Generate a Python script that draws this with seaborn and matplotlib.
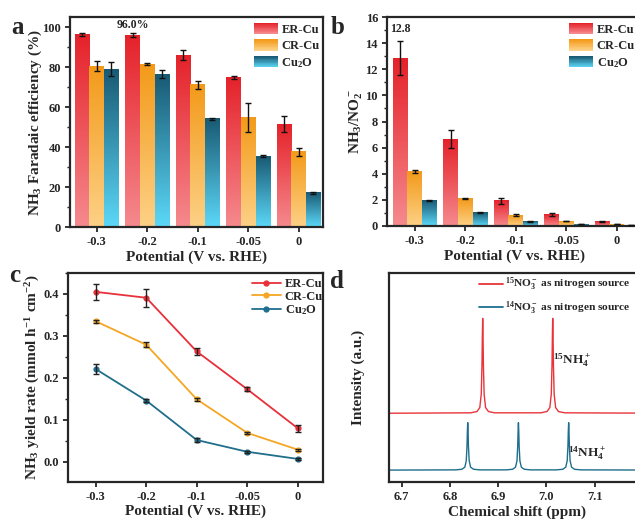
import numpy as np
import pandas as pd
import matplotlib
matplotlib.use("Agg")
import matplotlib.pyplot as plt
from matplotlib.colors import LinearSegmentedColormap
from matplotlib.legend_handler import HandlerBase
from matplotlib.patches import Rectangle
from matplotlib.lines import Line2D
from matplotlib.ticker import AutoMinorLocator, MultipleLocator, FormatStrFormatter
import seaborn as sns


potentials = ["-0.3", "-0.2", "-0.1", "-0.05", "0"]
samples = ["ER-Cu", "CR-Cu", "Cu$_2$O"]

# panel a: NH3 Faradaic efficiency (%)
fe_er = [96.2, 96.0, 86.0, 74.8, 51.5]
fe_er_err = [0.6, 0.9, 2.4, 0.8, 3.8]
fe_cr = [80.3, 81.5, 71.2, 54.8, 37.6]
fe_cr_err = [2.5, 0.5, 2.0, 7.2, 1.9]
fe_cu2o = [79.0, 76.3, 54.2, 35.5, 17.2]
fe_cu2o_err = [3.5, 2.0, 0.5, 0.3, 0.5]

# panel b: NH3/NO2- ratio
ratio_er = [12.85, 6.65, 1.92, 0.88, 0.34]
ratio_er_err = [1.32, 0.7, 0.2, 0.08, 0.03]
ratio_cr = [4.2, 2.07, 0.84, 0.38, 0.14]
ratio_cr_err = [0.12, 0.04, 0.05, 0.03, 0.02]
ratio_cu2o = [1.96, 1.03, 0.35, 0.14, 0.06]
ratio_cu2o_err = [0.06, 0.04, 0.03, 0.02, 0.01]

# panel c: NH3 yield rate (mmol h-1 cm-2)
yield_er = [0.405, 0.391, 0.263, 0.173, 0.080]
yield_er_err = [0.019, 0.022, 0.008, 0.005, 0.008]
yield_cr = [0.335, 0.279, 0.149, 0.069, 0.029]
yield_cr_err = [0.004, 0.006, 0.003, 0.003, 0.002]
yield_cu2o = [0.221, 0.146, 0.052, 0.024, 0.007]
yield_cu2o_err = [0.012, 0.003, 0.004, 0.003, 0.002]

# panel d: 1H NMR traces
shift_15n = [6.67, 6.843, 6.856, 6.862, 6.865, 6.8665, 6.8673, 6.868, 6.8687, 6.8695, 6.871, 6.874, 6.880, 6.893,
             6.988, 7.001, 7.007, 7.010, 7.0115, 7.0123, 7.013, 7.0137, 7.0145, 7.016, 7.019, 7.025, 7.038, 7.26]
int_15n = [0.329, 0.331, 0.337, 0.356, 0.420, 0.556, 0.701, 0.783, 0.701, 0.556, 0.420, 0.356, 0.337, 0.331,
           0.331, 0.337, 0.356, 0.420, 0.556, 0.701, 0.783, 0.701, 0.556, 0.420, 0.356, 0.337, 0.331, 0.329]
shift_14n = [6.67, 6.812, 6.825, 6.831, 6.834, 6.8355, 6.8363, 6.837, 6.8377, 6.8385, 6.840, 6.843, 6.849, 6.862,
             6.917, 6.930, 6.936, 6.939, 6.9405, 6.9413, 6.942, 6.9427, 6.9435, 6.945, 6.948, 6.954, 6.967,
             7.021, 7.034, 7.040, 7.043, 7.0445, 7.0453, 7.046, 7.0467, 7.0475, 7.049, 7.052, 7.058, 7.071, 7.26]
int_14n = [0.057, 0.058, 0.061, 0.071, 0.102, 0.171, 0.243, 0.284, 0.243, 0.171, 0.102, 0.071, 0.061, 0.058,
           0.058, 0.061, 0.071, 0.102, 0.171, 0.243, 0.284, 0.243, 0.171, 0.102, 0.071, 0.061, 0.058,
           0.058, 0.061, 0.071, 0.102, 0.171, 0.243, 0.284, 0.243, 0.171, 0.102, 0.071, 0.061, 0.058, 0.057]

# bar gradients: (bottom, top)
grad_colors = {"ER-Cu": ("#f58a8e", "#e5222a"),
               "CR-Cu": ("#fdd186", "#f39a1a"),
               "Cu$_2$O": ("#5cd8f8", "#195a74")}
line_colors = {"ER-Cu": "#e8303a", "CR-Cu": "#f5a623", "Cu$_2$O": "#1f6e8c"}

sns.set_style("ticks")
plt.rcParams["font.family"] = ["Liberation Serif", "DejaVu Serif"]
plt.rcParams["font.weight"] = "bold"
plt.rcParams["axes.labelweight"] = "bold"
plt.rcParams["mathtext.fontset"] = "custom"
plt.rcParams["mathtext.rm"] = "Liberation Serif:bold"
plt.rcParams["mathtext.it"] = "Liberation Serif:italic:bold"
plt.rcParams["mathtext.bf"] = "Liberation Serif:bold"
plt.rcParams["mathtext.default"] = "rm"

TICK_FS = 9
LABEL_FS = 11
LEG_FS = 9


class GradientHandler(HandlerBase):
    def __init__(self, cmap):
        super().__init__()
        self.cmap = cmap

    def create_artists(self, legend, orig_handle, xdescent, ydescent, width, height, fontsize, trans):
        strips = []
        n = 14
        for k in range(n):
            strips.append(Rectangle((-xdescent, -ydescent + height * k / n), width, height / n * 1.05,
                                    facecolor=self.cmap(k / (n - 1)), edgecolor="none", transform=trans))
        return strips


def style_axes(ax):
    for sp in ax.spines.values():
        sp.set_linewidth(1.6)
        sp.set_visible(True)
    ax.tick_params(which="major", direction="out", length=3.5, width=1.3, labelsize=TICK_FS, pad=3)
    ax.tick_params(which="minor", direction="out", length=2, width=1.0)
    for lab in ax.get_xticklabels() + ax.get_yticklabels():
        lab.set_fontweight("bold")


def gradient_barplot(ax, values, errors, ylim):
    df = pd.DataFrame({"potential": np.tile(potentials, 3),
                       "sample": np.repeat(samples, 5),
                       "value": np.concatenate(values)})
    sns.barplot(data=df, x="potential", y="value", hue="sample", order=potentials, hue_order=samples,
                errorbar=None, width=0.87, ax=ax, legend=False, palette=[grad_colors[s][1] for s in samples])
    for j, (cont, s) in enumerate(zip(ax.containers, samples)):
        cmap = LinearSegmentedColormap.from_list(s, grad_colors[s])
        for bar, err in zip(cont, errors[j]):
            x0, w, h = bar.get_x(), bar.get_width(), bar.get_height()
            ax.imshow(np.linspace(0, 1, 128).reshape(-1, 1), origin="lower", cmap=cmap, aspect="auto",
                      extent=[x0, x0 + w, 0, h], zorder=2)
            bar.set_visible(False)
            ax.errorbar(x0 + w / 2, h, yerr=err, fmt="none", ecolor="#111111", elinewidth=1.0,
                        capsize=2.5, capthick=1.0, zorder=4)
    ax.set_xlim(-0.53, 4.48)
    ax.set_ylim(*ylim)
    handles = [Rectangle((0, 0), 1, 1) for _ in samples]
    hmap = {h: GradientHandler(LinearSegmentedColormap.from_list(s, grad_colors[s]))
            for h, s in zip(handles, samples)}
    return handles, hmap


fig = plt.figure(figsize=(6.35, 5.19), dpi=100)
ax_a = fig.add_axes([70 / 635, 1 - 227 / 519, 253 / 635, 210 / 519])
ax_b = fig.add_axes([387 / 635, 1 - 226 / 519, 255 / 635, 209 / 519])
ax_c = fig.add_axes([68 / 635, 1 - 482 / 519, 255 / 635, 209 / 519])
ax_d = fig.add_axes([389 / 635, 1 - 482 / 519, 255 / 635, 209 / 519])

leg_common = dict(frameon=False, borderpad=0, borderaxespad=0, loc="upper left")

# ---- a
handles, hmap = gradient_barplot(ax_a, [fe_er, fe_cr, fe_cu2o], [fe_er_err, fe_cr_err, fe_cu2o_err], (0, 105))
ax_a.yaxis.set_major_locator(MultipleLocator(20))
ax_a.yaxis.set_minor_locator(AutoMinorLocator(2))
ax_a.set_xlabel("Potential (V vs. RHE)", fontsize=LABEL_FS, labelpad=2)
ax_a.set_ylabel("NH$_3$ Faradaic efficiency (%)", fontsize=LABEL_FS, labelpad=-1)
ax_a.text(ax_a.containers[0][1].get_x() + ax_a.containers[0][1].get_width() / 2, 101, "96.0%",
          ha="center", va="center", fontsize=8.5, fontweight="bold")
ax_a.legend(handles, samples, handler_map=hmap, bbox_to_anchor=(0.727, 0.972), fontsize=LEG_FS,
            handlelength=1.9, handleheight=1.0, handletextpad=0.3, labelspacing=0.3, **leg_common)
style_axes(ax_a)

# ---- b
handles, hmap = gradient_barplot(ax_b, [ratio_er, ratio_cr, ratio_cu2o],
                                 [ratio_er_err, ratio_cr_err, ratio_cu2o_err], (0, 16))
ax_b.set_xlim(-0.55, 4.5)
ax_b.yaxis.set_major_locator(MultipleLocator(2))
ax_b.yaxis.set_minor_locator(AutoMinorLocator(2))
ax_b.set_xlabel("Potential (V vs. RHE)", fontsize=LABEL_FS, labelpad=2)
ax_b.set_ylabel("NH$_3$/NO$_2^-$", fontsize=LABEL_FS, labelpad=0)
ax_b.text(ax_b.containers[0][0].get_x() + ax_b.containers[0][0].get_width() / 2, 15.1, "12.8",
          ha="center", va="center", fontsize=8.5, fontweight="bold")
ax_b.legend(handles, samples, handler_map=hmap, bbox_to_anchor=(0.715, 0.972), fontsize=LEG_FS,
            handlelength=1.9, handleheight=1.0, handletextpad=0.3, labelspacing=0.3, **leg_common)
style_axes(ax_b)

# ---- c
df_c = pd.DataFrame({"potential": np.tile(potentials, 3),
                     "sample": np.repeat(samples, 5),
                     "rate": np.concatenate([yield_er, yield_cr, yield_cu2o])})
sns.pointplot(data=df_c, x="potential", y="rate", hue="sample", order=potentials, hue_order=samples,
              palette=line_colors, markers="o", markersize=3.5, linewidth=1.3, errorbar=None,
              legend=False, ax=ax_c)
for vals, errs in zip([yield_er, yield_cr, yield_cu2o], [yield_er_err, yield_cr_err, yield_cu2o_err]):
    ax_c.errorbar(np.arange(len(potentials)), vals, yerr=errs, fmt="none", ecolor="#222222",
                  elinewidth=1.0, capsize=2.5, capthick=1.0, zorder=5)
ax_c.set_xlim(-0.55, 4.5)
ax_c.set_ylim(-0.048, 0.45)
ax_c.yaxis.set_major_locator(MultipleLocator(0.1))
ax_c.yaxis.set_minor_locator(AutoMinorLocator(2))
ax_c.yaxis.set_major_formatter(FormatStrFormatter("%.1f"))
ax_c.set_xlabel("Potential (V vs. RHE)", fontsize=LABEL_FS, labelpad=1)
ax_c.set_ylabel("NH$_3$ yield rate (mmol h$^{-1}$ cm$^{-2}$)", fontsize=LABEL_FS, labelpad=1)
lh = [Line2D([], [], color=line_colors[s], marker="o", markersize=3.5, linewidth=1.3) for s in samples]
ax_c.legend(lh, samples, bbox_to_anchor=(0.722, 0.975), fontsize=LEG_FS, handlelength=2.3,
            handletextpad=0.3, labelspacing=0.05, **leg_common)
style_axes(ax_c)

# ---- d
sns.lineplot(x=shift_15n, y=int_15n, color="#e8343a", linewidth=1.0, estimator=None, sort=False, ax=ax_d)
sns.lineplot(x=shift_14n, y=int_14n, color="#1f6e8c", linewidth=1.0, estimator=None, sort=False, ax=ax_d)
ax_d.set_xlim(6.674, 7.202)
ax_d.set_ylim(0, 1)
ax_d.set_yticks([])
ax_d.xaxis.set_major_locator(MultipleLocator(0.1))
ax_d.set_xlabel("Chemical shift (ppm)", fontsize=LABEL_FS, labelpad=2)
ax_d.set_ylabel("Intensity (a.u.)", fontsize=LABEL_FS, labelpad=17)
ax_d.text(7.0126, 0.584, "$^{15}$NH$_4^+$", ha="left", va="center", fontsize=9.5)
ax_d.text(7.0445, 0.14, "$^{14}$NH$_4^+$", ha="left", va="center", fontsize=9.5)
dh = [Line2D([], [], color="#e8343a", linewidth=1.3), Line2D([], [], color="#1f6e8c", linewidth=1.3)]
ax_d.legend(dh, ["$^{15}$NO$_3^-$ as nitrogen source", "$^{14}$NO$_3^-$ as nitrogen source"],
            bbox_to_anchor=(0.352, 0.985), fontsize=8.2, handlelength=2.1, handletextpad=0.2,
            labelspacing=0.55, **leg_common)
style_axes(ax_d)

for letter, (x, y) in zip("abcd", [(18, 28), (338, 27), (15, 276), (337, 282)]):
    fig.text(x / 635, 1 - y / 519, letter, fontsize=18, fontweight="bold", ha="center", va="center")

fig.savefig("out.png", dpi=100)
